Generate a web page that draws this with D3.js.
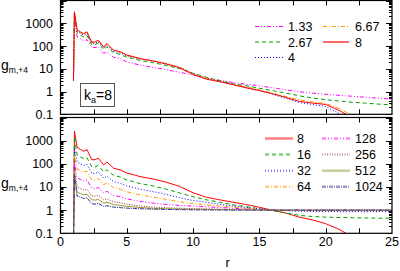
<!DOCTYPE html>
<html><head><meta charset="utf-8">
<script src="https://cdn.jsdelivr.net/npm/d3@7"></script>
<style>body{margin:0;background:#fff}svg{display:block}text{font-family:"Liberation Sans",Arial,sans-serif;fill:#000}</style>
</head><body><svg id="c" width="400" height="271"></svg>
<script>
const R = [0.98,1.05,1.25,1.5,1.75,2.0,2.35,2.6,2.85,3.25,3.5,4.0,4.5,5,5.5,6,7,8,9,10,11,12,13,14,15,16,17,18,19,20,21,22,23,24,25];
// top panel (k_a = 8)
const topLabels = ["1.33","2.67","4","6.67","8"];
const top133 = [3,2200,250,210,170,190,91,85,92,48,55,32,28,20,17,14.5,11.5,9,7,5.3,4.0,3.1,2.5,2.1,1.8,1.45,1.2,0.98,0.85,0.76,0.68,0.62,0.56,0.51,0.47];
const top267 = [3,2700,380,300,250,290,115,115,135,70,92,50,43,32,28,23,18.5,14,10,6.3,4.2,3.0,2.2,1.8,1.4,1.1,0.85,0.65,0.52,0.44,0.38,0.34,0.31,0.28,0.26];
const top4   = [3,3000,450,360,300,350,130,130,155,80,105,58,50,37,32,27,22,17,11.5,6.2,3.9,2.9,2.1,1.55,1.1,0.75,0.5,0.33,0.27,0.22,0.11,0.05,0.02,0.01,0.01];
const top667 = [3,3100,480,390,330,390,140,140,170,88,118,63,54,39,33,28,22.5,17,11.5,6.1,3.9,2.9,2.1,1.6,1.2,0.85,0.6,0.43,0.35,0.3,0.18,0.09,0.04,0.02,0.01];
const top8   = [3,3200,520,420,350,420,150,150,180,92,128,66,56,40,34,28,22,16,11,5.6,3.5,2.7,2.0,1.45,1.1,0.8,0.55,0.37,0.31,0.27,0.15,0.07,0.03,0.02,0.01];
// bottom panel
const botLabels = ["8","16","32","64","128","256","512","1024"];
const bot8    = [0.05,2600,520,420,350,410,150,150,175,90,120,65,55,40,34,28,22,16,10.5,5.6,3.6,2.8,2.2,1.75,1.33,0.98,0.75,0.5,0.38,0.26,0.15,0.07,0.03,0.02,0.01];
const bot16   = [0.05,1500,240,200,165,185,75,72,85,45,55,32,27,20,17,14,11,8,5.5,3.8,2.8,2.2,1.7,1.4,1.15,0.95,0.75,0.6,0.53,0.5,0.48,0.47,0.46,0.45,0.45];
const bot32   = [0.05,480,120,100,85,95,40,38,44,24,29,17,14.5,11,9.5,8,6.3,4.8,3.4,2.6,2.2,1.8,1.5,1.3,1.15,1.02,0.95,0.9,0.88,0.87,0.86,0.86,0.86,0.86,0.86];
const bot64   = [0.05,250,60,52,44,48,21,20,23,12.5,15,9.5,8,6.2,5.3,4.6,3.6,2.9,2.3,1.9,1.7,1.5,1.35,1.2,1.1,1.02,0.98,0.96,0.95,0.95,0.95,0.95,0.95,0.95,0.95];
const bot128  = [0.05,125,25,21,18,20,9,8.5,9.5,5.5,6.5,4.3,3.8,3.1,2.7,2.4,2.0,1.75,1.6,1.5,1.4,1.3,1.2,1.13,1.07,1.02,1.0,1.0,1.0,1.0,1.0,1.0,1.0,1.0,1.0];
const bot256  = [0.05,65,10,8.6,7.5,8,4.2,4,4.4,2.8,3.1,2.3,2.1,1.8,1.65,1.5,1.35,1.28,1.2,1.16,1.13,1.1,1.07,1.05,1.03,1.01,1.0,1.0,1.0,1.0,1.0,1.0,1.0,1.0,1.0];
const bot512  = [0.05,47,6,5.2,4.6,4.9,2.8,2.7,2.9,2.0,2.2,1.75,1.6,1.45,1.38,1.3,1.2,1.15,1.12,1.1,1.08,1.06,1.05,1.03,1.02,1.0,1.0,1.0,1.0,1.0,1.0,1.0,1.0,1.0,1.0];
const bot1024 = [0.05,33,4,3.7,3.2,3.4,1.9,1.8,1.95,1.45,1.55,1.35,1.28,1.22,1.18,1.15,1.1,1.07,1.05,1.03,1.02,1.01,1.0,1.0,1.0,1.0,1.0,1.0,1.0,1.0,1.0,1.0,1.0,1.0,1.0];
const xTicks = [0,5,10,15,20,25];
const yTickLabels = [0.1,1,10,100,1000];

const topSeries = [top133,top267,top4,top667,top8];
const botSeries = [bot8,bot16,bot32,bot64,bot128,bot256,bot512,bot1024];
const topStyle = [
 {c:"#ff00ff",d:"4,2,1,2,1,2"},{c:"#00a000",d:"4,3"},{c:"#0000ff",d:"1,2"},{c:"#ff9900",d:"4,2,1,2"},{c:"#ff0000",d:"none"}];
const botStyle = [
 {c:"#ff0000",d:"none"},{c:"#00a000",d:"4,3"},{c:"#0000ff",d:"1,2"},{c:"#ff9900",d:"4,2,1,2"},{c:"#ff00ff",d:"4,2,1,2,1,2"},
 {c:"#993333",d:"1,1.5"},{c:"#999933",d:"none"},{c:"#333399",d:"4,1,1,1"}];

const svg = d3.select("#c");
const L=60.5, Rt=392;
const x = d3.scaleLinear().domain([0,25]).range([L,Rt]);
const panels = [
 {y0:0.5,y1:114.3,series:topSeries,style:topStyle,labels:topLabels,id:"t"},
 {y0:117.5,y1:233.3,series:botSeries,style:botStyle,labels:botLabels,id:"b"}];

panels.forEach(p=>{
  const y = d3.scaleLog().domain([0.1,10000]).range([p.y1,p.y0]);
  const g = svg.append("g");
  g.append("clipPath").attr("id","clip"+p.id).append("rect")
   .attr("x",L).attr("y",p.y0).attr("width",Rt-L).attr("height",p.y1-p.y0);
  const minors=[]; for(let e=-1;e<4;e++) for(let k=1;k<10;k++) minors.push(k*Math.pow(10,e)); minors.push(10000);
  minors.forEach(v=>{
    const major = Math.abs(Math.log10(v)-Math.round(Math.log10(v)))<1e-9;
    const len = major?6:3;
    const yy = Math.round(y(v))+0.5;
    g.append("line").attr("x1",L).attr("x2",L+len).attr("y1",yy).attr("y2",yy).attr("stroke","#000");
    g.append("line").attr("x1",Rt).attr("x2",Rt-len).attr("y1",yy).attr("y2",yy).attr("stroke","#000");
  });
  for(let t=2.5;t<25;t+=2.5){
    const xx=Math.round(x(t))+0.5;
    g.append("line").attr("x1",xx).attr("x2",xx).attr("y1",p.y1).attr("y2",p.y1-5).attr("stroke","#000");
    g.append("line").attr("x1",xx).attr("x2",xx).attr("y1",p.y0).attr("y2",p.y0+5).attr("stroke","#000");
  }
  yTickLabels.forEach(v=>{
    g.append("text").attr("x",53).attr("y",y(v)+4.5).attr("text-anchor","end").attr("font-size",12.5).text(v);
  });
  const yl = g.append("text").attr("x",1).attr("y",(p.y0+p.y1)/2+13).attr("font-size",14);
  yl.append("tspan").text("g");
  yl.append("tspan").attr("font-size",8.5).attr("dy",3).text("m,+4");
  const line = d3.line().x((d,i)=>x(R[i])).y(d=>y(d));
  const cg = g.append("g").attr("clip-path","url(#clip"+p.id+")");
  p.series.forEach((s,i)=>{
    cg.append("path").attr("d",line(s)).attr("fill","none").attr("stroke",p.style[i].c)
      .attr("stroke-width",1).attr("stroke-dasharray",p.style[i].d);
  });
  g.append("rect").attr("x",L).attr("y",p.y0).attr("width",Rt-L).attr("height",p.y1-p.y0)
   .attr("fill","none").attr("stroke","#000").attr("stroke-width",1.2);
  p.labels.forEach((lab,i)=>{
    let col, row, lx1, lx2, tx, ty;
    if(p.id==="t"){ col = i<3?0:1; row = i<3?i:i-3; lx1=col?323:255; lx2=col?349:283; tx=col?355:288; ty=26.5+row*15.5; }
    else { col = i<4?0:1; row = i<4?i:i-4; lx1=col?322:265; lx2=col?350:293; tx=col?355:297; ty=138.5+row*16.1; }
    g.append("line").attr("x1",lx1).attr("x2",lx2).attr("y1",ty).attr("y2",ty)
     .attr("stroke",p.style[i].c).attr("stroke-dasharray",p.style[i].d)
     .attr("stroke-width",p.id==="t"?1.2:2.5).attr("stroke-opacity",p.id==="t"?1:0.5);
    g.append("text").attr("x",tx).attr("y",ty+4.5).attr("font-size",12.5).text(lab);
  });
});
xTicks.forEach(t=>{
  svg.append("text").attr("x",x(t)).attr("y",246).attr("text-anchor","middle").attr("font-size",12.5).text(t);
});
svg.append("text").attr("x",x(12.6)).attr("y",267).attr("text-anchor","middle").attr("font-size",13).text("r");
svg.append("rect").attr("x",80.5).attr("y",83.5).attr("width",34).attr("height",23).attr("fill","#fff").attr("stroke","#555");
const kt = svg.append("text").attr("x",84).attr("y",100).attr("font-size",14);
kt.append("tspan").text("k");
kt.append("tspan").attr("font-size",9).attr("dy",3).text("a");
kt.append("tspan").attr("dy",-3).text("=8");
</script></body></html>
